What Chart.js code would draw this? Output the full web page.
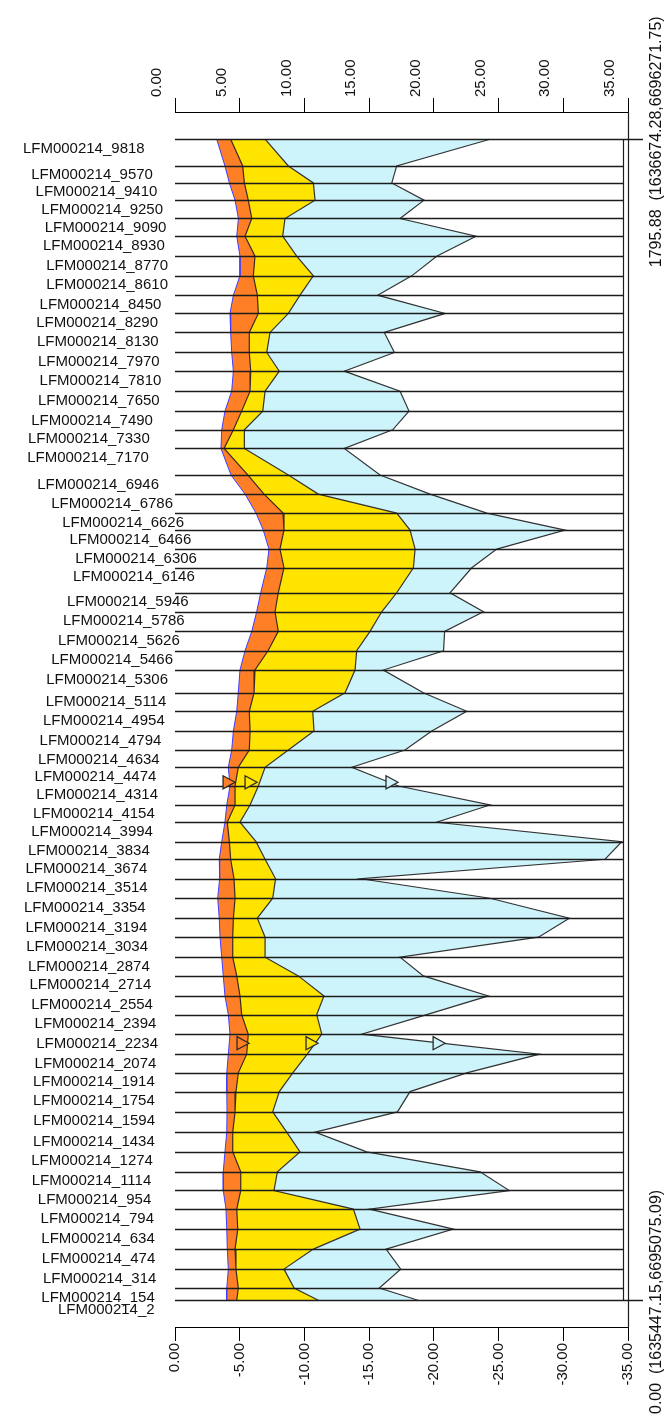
<!DOCTYPE html>
<html>
<head>
<meta charset="utf-8">
<script src="https://cdn.jsdelivr.net/npm/chart.js@4.4.1/dist/chart.umd.min.js"></script>
<style>
  html, body { margin: 0; padding: 0; background: #fff; }
</style>
</head>
<body>
<canvas id="profileChart" width="670" height="1416"></canvas>
<script>
// station ids, top of the profile first
const stations = [9818, 9570, 9410, 9250, 9090, 8930, 8770, 8610, 8450, 8290, 8130, 7970, 7810, 7650, 7490, 7330, 7170,
  6946, 6786, 6626, 6466, 6306, 6146, 5946, 5786, 5626, 5466, 5306, 5114, 4954, 4794, 4634, 4474, 4314, 4154, 3994,
  3834, 3674, 3514, 3354, 3194, 3034, 2874, 2714, 2554, 2394, 2234, 2074, 1914, 1754, 1594, 1434, 1274, 1114, 954,
  794, 634, 474, 314, 154, 2];

// distance along the line (m)
const distances = [1795.9, 1754.6, 1728.3, 1701.6, 1673.3, 1645.9, 1615.0, 1584.6, 1554.7, 1526.5, 1497.1, 1466.1,
  1437.2, 1406.3, 1375.4, 1346.5, 1317.7, 1276.5, 1247.1, 1217.7, 1191.4, 1162.1, 1133.2, 1094.5, 1065.1, 1034.8,
  1004.8, 975.0, 939.9, 911.2, 880.7, 851.3, 824.6, 795.7, 766.3, 739.6, 709.6, 682.4, 652.2, 622.1, 591.2, 561.8,
  530.9, 502.0, 471.0, 442.1, 411.8, 380.9, 352.0, 323.1, 291.7, 260.3, 229.9, 199.0, 170.1, 141.3, 110.4, 79.5,
  48.5, 19.2, 0];

const innerEdge = [3.22, 3.86, 4.20, 4.64, 4.90, 4.77, 5.02, 5.02, 4.51, 4.25, 4.30, 4.38, 4.51, 4.38, 3.86, 3.61, 3.55,
  4.33, 5.41, 6.26, 6.82, 7.26, 7.09, 6.62, 6.31, 5.93, 5.41, 5.02, 4.89, 4.77, 4.51, 4.38, 4.12, 4.25, 4.00, 3.86,
  3.61, 3.42, 3.45, 3.30, 3.42, 3.48, 3.61, 3.73, 3.86, 4.12, 4.25, 4.12, 4.00, 4.00, 4.02, 4.00, 3.86, 3.73, 3.73,
  3.94, 4.00, 4.04, 4.12, 4.00, 3.99];

const orangeEdge = [4.30, 5.23, 5.36, 5.66, 5.93, 5.41, 6.18, 6.05, 6.36, 6.44, 5.74, 5.74, 5.85, 5.80, 5.15, 4.51, 3.79,
  5.64, 6.88, 8.35, 8.42, 8.11, 8.42, 7.98, 7.73, 7.98, 7.19, 6.18, 6.11, 5.74, 5.80, 5.74, 4.89, 4.64, 4.64, 4.04,
  4.20, 4.30, 4.56, 4.64, 4.51, 4.46, 4.46, 4.77, 5.02, 5.15, 5.66, 5.54, 4.89, 4.71, 4.64, 4.46, 4.46, 5.08, 5.08,
  4.77, 4.85, 4.64, 4.71, 4.89, 4.77];

const yellowEdge = [6.96, 8.76, 10.69, 10.82, 8.50, 8.32, 9.40, 10.69, 9.66, 8.76, 7.34, 7.09, 8.06, 6.96, 6.78, 5.36, 5.36,
  8.76, 11.07, 17.13, 18.16, 18.55, 18.42, 17.13, 15.97, 15.07, 14.04, 13.91, 13.14, 10.64, 10.74, 8.76, 6.96, 6.44,
  5.80, 5.02, 6.26, 6.96, 7.77, 7.55, 6.36, 6.96, 6.96, 9.53, 11.51, 10.95, 11.34, 10.22, 9.10, 8.06, 7.55, 8.63,
  9.66, 7.91, 7.65, 13.78, 14.30, 10.69, 8.42, 9.20, 11.11];

const outerEdge = [24.34, 17.13, 16.75, 19.24, 17.39, 23.26, 20.22, 18.29, 15.66, 20.87, 16.17, 16.95, 13.08, 17.39, 18.08,
  16.82, 13.08, 15.84, 19.71, 24.09, 30.14, 24.86, 22.93, 21.25, 23.83, 20.83, 20.75, 16.10, 19.19, 22.54, 19.84,
  17.77, 13.66, 17.26, 24.34, 20.22, 34.52, 33.23, 14.37, 24.34, 30.47, 28.08, 17.39, 19.19, 24.21, 19.45, 14.43,
  28.16, 22.54, 18.16, 17.19, 10.82, 14.81, 23.57, 25.83, 15.02, 21.51, 16.31, 17.44, 15.79, 18.83];

// triangle markers (tip on the line)
const markerDistances = [801.4, 801.4, 801.4, 397.9, 397.9, 397.9];
const markerValues = [4.64, 6.34, 17.23, 5.72, 11.05, 20.87];

const startNote = '0.00  (1635447.15,6695075.09)';
const endNote = '1795.88  (1636674.28,6696271.75)';

const ORANGE = '#ff7f27';
const YELLOW = '#ffe400';
const SKY = '#cdf4fb';
const markerFill = [ORANGE, YELLOW, SKY];
const FONT = '"Liberation Sans", Arial, sans-serif';

const toPoints = values => values.map((v, i) => ({ x: v, y: distances[i] }));

const profileDecor = {
  id: 'profileDecor',
  afterDatasetsDraw(chart) {
    const { ctx, chartArea } = chart;
    const xs = chart.scales.x;
    const ys = chart.scales.y;
    const x0 = xs.getPixelForValue(0);
    const frameX = chartArea.right - 5;
    const last = distances.length - 1;

    ctx.save();
    ctx.strokeStyle = '#1c1c1c';
    ctx.lineWidth = 1.4;
    distances.forEach((d, i) => {
      const y = Math.round(ys.getPixelForValue(d)) + 0.5;
      ctx.beginPath();
      ctx.moveTo(x0, y);
      ctx.lineTo(i === 0 || i === last ? chartArea.right + 15 : frameX, y);
      ctx.stroke();
    });

    const yTop = ys.getPixelForValue(distances[0]);
    const yBot = ys.getPixelForValue(distances[last]);
    ctx.lineWidth = 1.2;
    ctx.beginPath();
    ctx.moveTo(frameX + 0.5, yTop);
    ctx.lineTo(frameX + 0.5, yBot);
    ctx.moveTo(chartArea.right + 0.5, chartArea.top);
    ctx.lineTo(chartArea.right + 0.5, chartArea.bottom);
    ctx.stroke();

    // station labels follow the inner edge
    ctx.fillStyle = '#111';
    ctx.font = '15px ' + FONT;
    ctx.textAlign = 'right';
    ctx.textBaseline = 'alphabetic';
    stations.forEach((s, i) => {
      const x = xs.getPixelForValue(innerEdge[i]) - 72;
      const y = ys.getPixelForValue(distances[i]) + 13.5;
      ctx.fillText('LFM000214_' + s, x, y);
    });

    // markers
    ctx.strokeStyle = '#2a2a2a';
    ctx.lineWidth = 1.3;
    markerValues.forEach((v, i) => {
      const px = xs.getPixelForValue(v);
      const py = ys.getPixelForValue(markerDistances[i]);
      ctx.beginPath();
      ctx.moveTo(px, py);
      ctx.lineTo(px - 12, py - 6.5);
      ctx.lineTo(px - 12, py + 6.5);
      ctx.closePath();
      ctx.fillStyle = markerFill[i % 3];
      ctx.fill();
      ctx.stroke();
    });

    // end notes, rotated
    ctx.fillStyle = '#111';
    ctx.font = '16px ' + FONT;
    ctx.textAlign = 'left';
    ctx.textBaseline = 'middle';
    [[endNote, yTop + 128], [startNote, chart.height - 2]].forEach(([text, y]) => {
      ctx.save();
      ctx.translate(chartArea.right + 29, y);
      ctx.rotate(-Math.PI / 2);
      ctx.fillText(text, 0, 0);
      ctx.restore();
    });
    ctx.restore();
  },
};

const axisCommon = {
  type: 'linear',
  min: 0,
  max: 35,
  grid: { drawOnChartArea: false, color: '#000', tickLength: 14 },
  border: { color: '#000', width: 1 },
};

new Chart(document.getElementById('profileChart'), {
  type: 'line',
  data: {
    datasets: [
      { data: toPoints(innerEdge), borderColor: '#3c3cff', borderWidth: 1, fill: false },
      { data: toPoints(orangeEdge), borderColor: '#3a2a20', borderWidth: 1.2, backgroundColor: ORANGE, fill: '-1' },
      { data: toPoints(yellowEdge), borderColor: '#333', borderWidth: 1.2, backgroundColor: YELLOW, fill: '-1' },
      { data: toPoints(outerEdge), borderColor: '#333', borderWidth: 1.2, backgroundColor: SKY, fill: '-1' },
    ],
  },
  options: {
    responsive: false,
    animation: false,
    devicePixelRatio: 1,
    indexAxis: 'y',
    layout: { padding: { left: 175, right: 42, top: 0, bottom: 0 } },
    elements: { point: { radius: 0 }, line: { tension: 0 } },
    plugins: { legend: { display: false }, tooltip: { enabled: false } },
    scales: {
      y: { type: 'linear', min: -41, max: 1838, display: false },
      x: {
        ...axisCommon,
        position: 'top',
        afterFit: s => { s.height = 112; },
        ticks: {
          stepSize: 5, autoSkip: false, minRotation: 90, maxRotation: 90, padding: 1,
          color: '#111', font: { family: FONT, size: 15 },
          callback: v => v.toFixed(2),
        },
      },
      x2: {
        ...axisCommon,
        position: 'bottom',
        afterFit: s => { s.height = 89; },
        ticks: {
          stepSize: 5, autoSkip: false, minRotation: 90, maxRotation: 90, padding: 2,
          color: '#111', font: { family: FONT, size: 15 },
          callback: v => (v === 0 ? '0.00' : '-' + v.toFixed(2)),
        },
      },
    },
  },
  plugins: [profileDecor],
});
</script>
</body>
</html>
